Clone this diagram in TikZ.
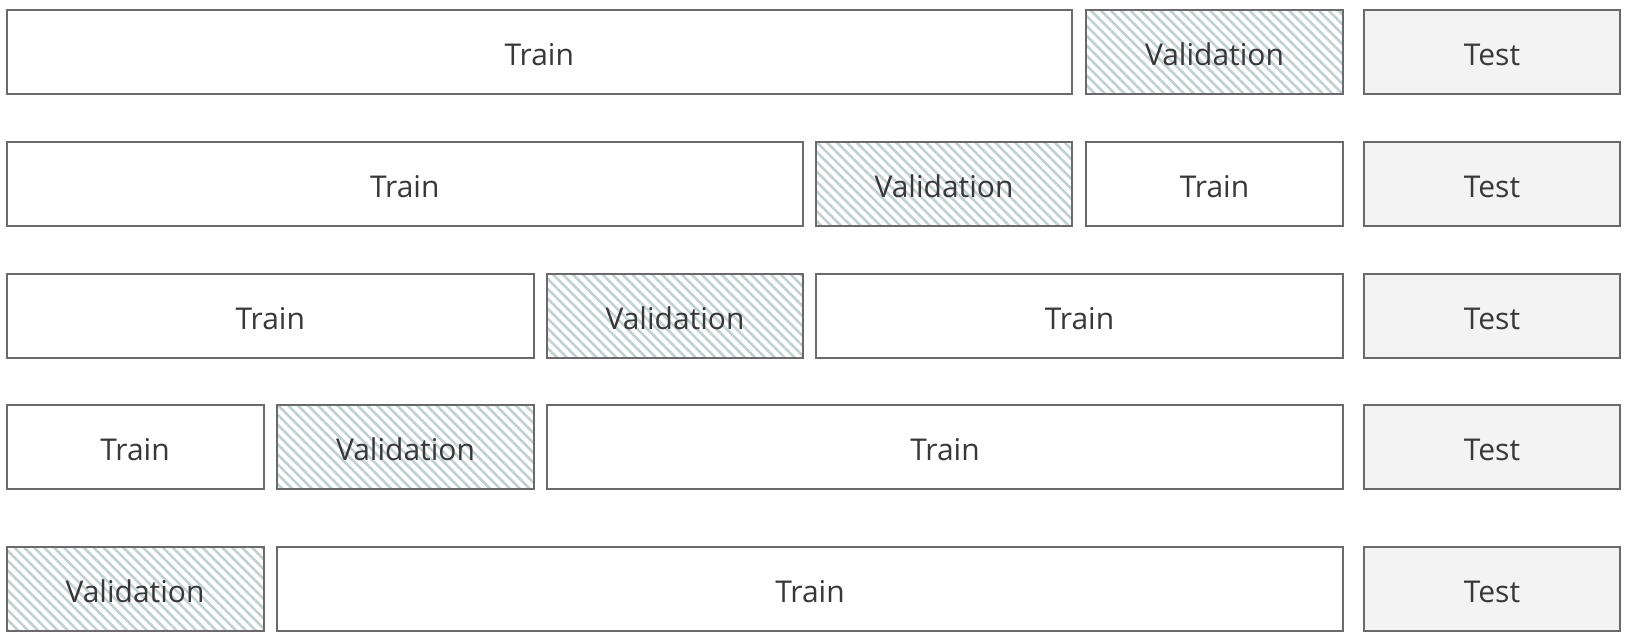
\documentclass[tikz,border=0pt]{standalone}
\usepackage{fontspec}
\setmainfont{Open Sans}
\usetikzlibrary{patterns.meta}

\definecolor{edgegray}{HTML}{6A6A6A}
\definecolor{labelgray}{HTML}{383838}
\definecolor{testfill}{HTML}{F3F3F3}
\definecolor{hatchc}{HTML}{C3D0D0}

\tikzset{
  cell/.style={draw=edgegray, line width=2pt, inner sep=0pt,
    minimum height=84pt, text=labelgray,
    font=\fontsize{30}{34}\selectfont},
  trainbox/.style={cell, fill=white},
  valbox/.style={cell, pattern={Lines[angle=-45, distance=7pt, line width=2.6pt]},
    pattern color=hatchc},
  testbox/.style={cell, fill=testfill},
}

% \cellbox{name}{style}{left}{right}{top}{text}
\newcommand{\cellbox}[6]{%
  \node[#2, minimum width={#4-#3}] (#1) at ({(#3+#4)/2},{#5+42})
    {\raisebox{-2.5pt}[\height][\depth]{#6}};}

\begin{document}
\begin{tikzpicture}[x=1pt, y=-1pt]
  \useasboundingbox (0,0) rectangle (1626,642);

  % fold 1
  \cellbox{aA}{trainbox}{6.5}{1072}{10}{Train}
  \cellbox{aB}{valbox}{1086}{1343}{10}{Validation}
  \cellbox{aT}{testbox}{1364}{1620}{10}{Test}

  % fold 2
  \cellbox{bA}{trainbox}{6.5}{803}{142}{Train}
  \cellbox{bB}{valbox}{816}{1072}{142}{Validation}
  \cellbox{bC}{trainbox}{1086}{1343}{142}{Train}
  \cellbox{bT}{testbox}{1364}{1620}{142}{Test}

  % fold 3
  \cellbox{cA}{trainbox}{6.5}{534}{274}{Train}
  \cellbox{cB}{valbox}{547}{803}{274}{Validation}
  \cellbox{cC}{trainbox}{816}{1343}{274}{Train}
  \cellbox{cT}{testbox}{1364}{1620}{274}{Test}

  % fold 4
  \cellbox{dA}{trainbox}{6.5}{263.5}{405}{Train}
  \cellbox{dB}{valbox}{277}{534}{405}{Validation}
  \cellbox{dC}{trainbox}{547}{1343}{405}{Train}
  \cellbox{dT}{testbox}{1364}{1620}{405}{Test}

  % fold 5
  \cellbox{eA}{valbox}{6.5}{263.5}{547}{Validation}
  \cellbox{eB}{trainbox}{277}{1343}{547}{Train}
  \cellbox{eT}{testbox}{1364}{1620}{547}{Test}
\end{tikzpicture}
\end{document}
